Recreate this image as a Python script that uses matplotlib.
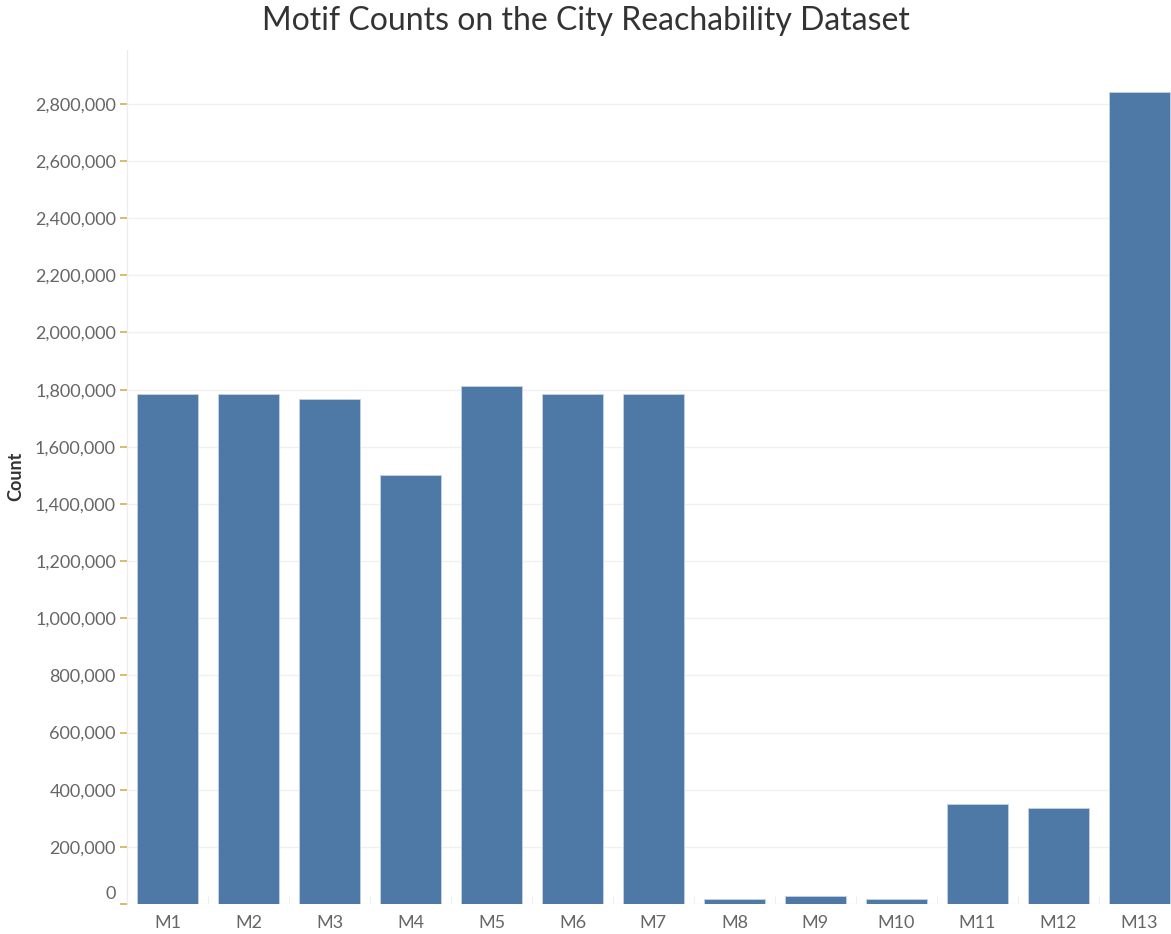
import matplotlib.pyplot as plt
import matplotlib.transforms as mtransforms
from matplotlib.ticker import FuncFormatter

motifs = ["M1", "M2", "M3", "M4", "M5", "M6", "M7", "M8", "M9", "M10", "M11", "M12", "M13"]
counts = [1784000, 1784000, 1767000, 1500000, 1814000, 1784000, 1784000,
          17000, 27000, 17000, 349000, 337000, 2843000]
yticks = list(range(0, 2800001, 200000))

plt.rcParams['font.family'] = ['Lato', 'DejaVu Sans']

fig = plt.figure(figsize=(11.71, 9.34), dpi=100)
# the plot runs a little past the right edge, as in the reference
ax = fig.add_axes([0.1085, 0.032, 0.899, 0.915])

x = range(len(motifs))
ax.bar(x, counts, width=0.75, color="#4e79a7", edgecolor="#c5d3e3", linewidth=0.6, zorder=3)

ax.set_xlim(-0.5, len(motifs) - 0.5)
ax.set_ylim(0, 2990000)
ax.set_xticks(list(x))
ax.set_xticklabels(motifs, fontsize=13, color="#666666")
ax.set_yticks(yticks)
ax.yaxis.set_major_formatter(FuncFormatter(lambda v, p: f"{int(v):,}"))
ax.tick_params(axis="y", labelsize=13, labelcolor="#666666", color="#d4b04a",
               length=5, width=1.2, pad=3)
ax.tick_params(axis="x", length=0, pad=8)

# "0" label sits a bit above its tick
fig.canvas.draw()
lbl0 = ax.get_yticklabels()[0]
lbl0.set_transform(lbl0.get_transform() + mtransforms.ScaledTranslation(0, 12 / 100, fig.dpi_scale_trans))

# category separators at the bottom
ax.set_xticks([i + 0.5 for i in range(len(motifs) - 1)], minor=True)
ax.tick_params(axis="x", which="minor", direction="in", length=6, color="#ececec")

ax.grid(axis="y", color="#f0f0f0", linewidth=1, zorder=0)
for s in ["top", "right", "bottom"]:
    ax.spines[s].set_visible(False)
ax.spines["left"].set_color("#ececec")

ax.set_ylabel("Count", fontsize=13, fontweight="bold", color="#333333", labelpad=8)
fig.text(0.5, 0.978, "Motif Counts on the City Reachability Dataset",
         ha="center", va="center", fontsize=23, color="#333333")

fig.savefig("out.png", dpi=100)
